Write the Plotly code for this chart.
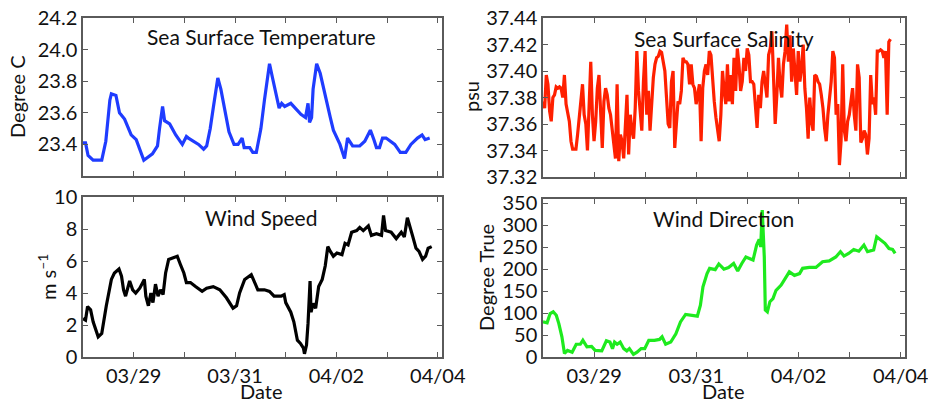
import pandas as pd
import plotly.graph_objects as go
from plotly.subplots import make_subplots

# ---------------- data ----------------
start = pd.Timestamp("2013-03-28 00:00")

# Sea surface temperature (days since 03/28 00:00, degree C)
sst_days = [0, 0.05, 0.1, 0.2, 0.37, 0.45, 0.53, 0.56, 0.65, 0.72, 0.82, 0.95, 1.05, 1.2, 1.37,
            1.47, 1.51, 1.57, 1.61, 1.71, 1.83, 1.96, 2.04, 2.08, 2.28, 2.38, 2.44, 2.51, 2.57,
            2.66, 2.72, 2.8, 2.88, 2.98, 3.06, 3.14, 3.18, 3.29, 3.35, 3.42, 3.51, 3.58, 3.68,
            3.74, 3.83, 3.87, 3.92, 3.98, 4.1, 4.18, 4.3, 4.39, 4.44, 4.47, 4.51, 4.54, 4.61,
            4.68, 4.78, 4.88, 4.94, 5.07, 5.16, 5.22, 5.32, 5.46, 5.56, 5.67, 5.74, 5.79, 5.85,
            5.91, 5.98, 6.15, 6.26, 6.37, 6.47, 6.6, 6.69, 6.75, 6.84]
sst_vals = [23.41, 23.41, 23.33, 23.30, 23.30, 23.42, 23.68, 23.72, 23.71, 23.60, 23.56, 23.46,
            23.43, 23.30, 23.34, 23.39, 23.50, 23.64, 23.55, 23.53, 23.46, 23.40, 23.45, 23.44,
            23.40, 23.37, 23.39, 23.50, 23.63, 23.82, 23.75, 23.61, 23.48, 23.40, 23.40, 23.44,
            23.38, 23.38, 23.35, 23.35, 23.50, 23.68, 23.91, 23.82, 23.70, 23.63, 23.66, 23.64,
            23.66, 23.63, 23.59, 23.57, 23.66, 23.54, 23.57, 23.75, 23.91, 23.85, 23.72, 23.57,
            23.49, 23.40, 23.31, 23.44, 23.39, 23.39, 23.42, 23.49, 23.43, 23.38, 23.38, 23.44,
            23.44, 23.40, 23.35, 23.35, 23.40, 23.44, 23.46, 23.43, 23.44]

# Sea surface salinity (regular samples, psu)
sss_step_seconds = 2784
sss_vals = [37.377, 37.372, 37.397, 37.390, 37.370, 37.362, 37.380, 37.382, 37.388, 37.387,
            37.388, 37.387, 37.380, 37.397, 37.375, 37.367, 37.362, 37.347, 37.341, 37.341,
            37.341, 37.352, 37.367, 37.380, 37.390, 37.367, 37.360, 37.340, 37.375, 37.407,
            37.367, 37.347, 37.362, 37.387, 37.397, 37.367, 37.342, 37.377, 37.387, 37.382,
            37.372, 37.367, 37.357, 37.347, 37.334, 37.390, 37.332, 37.352, 37.347, 37.334,
            37.362, 37.382, 37.337, 37.367, 37.355, 37.349, 37.372, 37.415, 37.385, 37.367,
            37.355, 37.392, 37.415, 37.367, 37.385, 37.355, 37.380, 37.395, 37.405, 37.410,
            37.411, 37.415, 37.414, 37.407, 37.400, 37.380, 37.360, 37.357, 37.392, 37.400,
            37.342, 37.360, 37.377, 37.375, 37.385, 37.410, 37.407, 37.407, 37.405, 37.390,
            37.405, 37.390, 37.387, 37.375, 37.382, 37.390, 37.347, 37.387, 37.400, 37.405,
            37.397, 37.415, 37.412, 37.392, 37.377, 37.365, 37.355,
            37.347, 37.367, 37.400, 37.385, 37.375, 37.405, 37.377, 37.397, 37.375, 37.410,
            37.385, 37.417, 37.405, 37.385, 37.392, 37.410, 37.400, 37.417, 37.412, 37.392,
            37.392, 37.390, 37.372, 37.357, 37.382, 37.372, 37.392, 37.400, 37.390, 37.380,
            37.412, 37.417, 37.430, 37.395, 37.360, 37.382, 37.410, 37.390, 37.380, 37.405,
            37.415, 37.435, 37.407, 37.427, 37.392, 37.417, 37.400, 37.382, 37.415, 37.392,
            37.402, 37.420, 37.387, 37.372, 37.349, 37.380, 37.362, 37.355, 37.397, 37.396,
            37.392, 37.390, 37.382, 37.372, 37.357, 37.347, 37.367, 37.380, 37.392, 37.415,
            37.410, 37.367, 37.375, 37.329, 37.347, 37.405, 37.355, 37.347, 37.362, 37.367,
            37.377, 37.387, 37.367, 37.355, 37.405, 37.395, 37.346, 37.349, 37.355, 37.352,
            37.337, 37.349, 37.397, 37.375, 37.380, 37.367, 37.415, 37.415, 37.416, 37.415,
            37.410, 37.415, 37.367, 37.422, 37.424]

# Wind speed (days, m/s)
ws_days = [0, 0.05, 0.09, 0.15, 0.2, 0.3, 0.37, 0.41, 0.46, 0.56,
           0.62, 0.71, 0.76, 0.8, 0.84, 0.92, 0.98, 1.04, 1.12, 1.21,
           1.24, 1.29, 1.34, 1.38, 1.43, 1.48, 1.53, 1.58, 1.63, 1.69,
           1.79, 1.86, 1.92, 1.99, 2.04, 2.12, 2.22, 2.35, 2.44, 2.57,
           2.7, 2.83, 2.96, 3.03, 3.09, 3.19, 3.32, 3.38, 3.45, 3.58,
           3.68, 3.77, 3.91, 3.97, 4.0, 4.1, 4.16, 4.23, 4.29, 4.35,
           4.37, 4.41, 4.44, 4.48, 4.5, 4.54, 4.59, 4.65, 4.72, 4.78,
           4.83, 4.88, 4.94, 5.01, 5.11, 5.17, 5.23, 5.3, 5.4, 5.46,
           5.53, 5.63, 5.69, 5.79, 5.89, 5.93, 5.97, 6.08, 6.18, 6.28,
           6.34, 6.4, 6.45, 6.5, 6.57, 6.63, 6.7, 6.76, 6.81, 6.88]
ws_vals = [2.4, 2.3, 3.15, 2.95, 2.2, 1.26, 1.47, 2.3, 3.2, 4.85,
           5.25, 5.5, 5.05, 4.2, 3.8, 4.75, 4.2, 4.0, 4.3, 4.85,
           3.8, 3.2, 4.0, 3.4, 4.55, 3.8, 4.2, 3.9, 5.25, 6.1,
           6.2, 6.3, 5.8, 5.25, 4.65, 4.65, 4.4, 4.1, 4.3, 4.4,
           4.2, 3.7, 3.05, 3.2, 4.0, 4.85, 5.15, 4.75, 4.2, 4.2,
           4.1, 3.8, 3.8, 3.9, 3.4, 2.8, 2.2, 1.05, 0.85, 0.55,
           0.2, 0.75, 2.1, 4.75, 2.8, 3.35, 3.05, 4.4, 4.85, 5.7,
           6.9, 6.6, 6.3, 6.5, 6.4, 7.1, 7.0, 7.8, 7.9, 8.1,
           7.9, 8.2, 7.6, 7.7, 7.6, 8.85, 7.9, 7.8, 7.4, 7.8,
           7.5, 8.7, 8.2, 7.6, 6.8, 6.6, 6.1, 6.3, 6.8, 6.9]

# Wind direction (days, degree true)
wd_days = [0.0, 0.08, 0.14, 0.2, 0.26, 0.31, 0.37, 0.42, 0.48, 0.57,
           0.65, 0.73, 0.78, 0.86, 0.95, 1.02, 1.15, 1.24, 1.31, 1.36,
           1.4, 1.45, 1.51, 1.58, 1.64, 1.69, 1.77, 1.84, 1.92, 1.99,
           2.07, 2.18, 2.28, 2.33, 2.4, 2.5, 2.6, 2.69, 2.79, 2.92,
           3.02, 3.08, 3.13, 3.21, 3.26, 3.37, 3.44, 3.54, 3.63, 3.73,
           3.81, 3.89, 3.97, 4.05, 4.11, 4.18, 4.23, 4.26, 4.29, 4.33,
           4.35, 4.39, 4.44, 4.5, 4.56, 4.66, 4.76, 4.82, 4.92, 5.02,
           5.08, 5.21, 5.34, 5.47, 5.6, 5.73, 5.82, 5.89, 5.98, 6.08,
           6.18, 6.28, 6.35, 6.47, 6.53, 6.63, 6.69, 6.77, 6.84, 6.89]
wd_vals = [80, 78, 99, 103, 95, 76, 46, 8, 15, 11,
           29, 29, 38, 23, 24, 15, 14, 37, 34, 19,
           34, 29, 34, 19, 14, 19, 6, 11, 19, 19,
           38, 38, 40, 46, 29, 34, 53, 80, 97, 95,
           93, 118, 160, 190, 202, 199, 212, 200, 204, 213,
           196, 213, 228, 224, 221, 255, 268, 251, 335, 228,
           107, 103, 126, 133, 152, 164, 184, 194, 186, 190,
           202, 204, 204, 217, 219, 228, 240, 230, 236, 245,
           241, 255, 240, 244, 274, 266, 259, 247, 245, 236]

day_ticks = ["03/28", "03/29", "03/30", "03/31", "04/01", "04/02", "04/03", "04/04"]
label_ticks = ["03/29", "03/31", "04/02", "04/04"]

sst_ticks = [23.4, 23.6, 23.8, 24.0, 24.2]
sss_ticks = [37.32, 37.34, 37.36, 37.38, 37.40, 37.42, 37.44]
ws_ticks = [0, 2, 4, 6, 8, 10]
wd_ticks = [0, 50, 100, 150, 200, 250, 300, 350]

# ---------------- build ----------------
def to_time(days):
    return [start + pd.Timedelta(days=d) for d in days]

def md_to_time(labels):
    return [pd.Timestamp(f"{start.year}/{s}") for s in labels]

sss_time = [start + pd.Timedelta(seconds=sss_step_seconds * i) for i in range(len(sss_vals))]

fig = make_subplots(rows=2, cols=2)
lw = 3.2
fig.add_trace(go.Scatter(x=to_time(sst_days), y=sst_vals, mode="lines",
                         line=dict(color="#1f3cff", width=lw)), row=1, col=1)
fig.add_trace(go.Scatter(x=sss_time, y=sss_vals, mode="lines",
                         line=dict(color="#ff2000", width=lw)), row=1, col=2)
fig.add_trace(go.Scatter(x=to_time(ws_days), y=ws_vals, mode="lines",
                         line=dict(color="#000000", width=lw)), row=2, col=1)
fig.add_trace(go.Scatter(x=to_time(wd_days), y=wd_vals, mode="lines",
                         line=dict(color="#1eea1e", width=lw)), row=2, col=2)

W, H = 928, 402
def xd(a, b):
    return [a / W, b / W]
def yd(top, bot):
    return [1 - bot / H, 1 - top / H]

TICK = 20
axis_common = dict(showline=True, linecolor="#5a5a5a", linewidth=1.5, mirror="ticks",
                   ticks="inside", ticklen=5, tickcolor="#5a5a5a", tickwidth=1.2,
                   showgrid=False, zeroline=False, automargin=False,
                   ticklabeloverflow="allow",
                   tickfont=dict(family="Lato", size=TICK, color="#111"))

xr = [start, start + pd.Timedelta(hours=170)]
for name, dom, show in [("xaxis", xd(83, 442), False), ("xaxis2", xd(543, 905), False),
                        ("xaxis3", xd(83, 442), True), ("xaxis4", xd(543, 905), True)]:
    fig.layout[name].update(domain=dom, range=xr, tickmode="array",
                            tickvals=md_to_time(label_ticks), ticktext=label_ticks,
                            showticklabels=show,
                            minor=dict(tickmode="array", tickvals=md_to_time(day_ticks),
                                       ticks="inside", ticklen=5, tickcolor="#5a5a5a",
                                       tickwidth=1.2, showgrid=False),
                            **axis_common)

fig.layout.yaxis.update(domain=yd(18, 176), range=[23.2, 24.2], tickmode="array",
                        tickvals=sst_ticks, ticktext=[f"{v:.1f}" for v in sst_ticks], **axis_common)
fig.layout.yaxis2.update(domain=yd(18, 177), range=[37.32, 37.44], tickmode="array",
                         tickvals=sss_ticks, ticktext=[f"{v:.2f}" for v in sss_ticks], **axis_common)
fig.layout.yaxis3.update(domain=yd(197, 357), range=[0, 10], tickmode="array",
                         tickvals=ws_ticks, ticktext=[str(v) for v in ws_ticks], **axis_common)
fig.layout.yaxis4.update(domain=yd(199, 357), range=[0, 360], tickmode="array",
                         tickvals=wd_ticks, ticktext=[str(v) for v in wd_ticks], **axis_common)

def ann(text, x, y, angle=0, size=20):
    fig.add_annotation(text=text, x=x / W, y=1 - y / H, xref="paper", yref="paper",
                       showarrow=False, textangle=angle, xanchor="center", yanchor="middle",
                       font=dict(family="Lato", size=size, color="#111"))

ann("Sea Surface Temperature", 261, 37, size=21)
ann("Sea Surface Salinity", 724, 38, size=21)
ann("Wind Speed", 261, 217, size=21)
ann("Wind Direction", 723, 218, size=21)
ann("Degree C", 17, 97, -90)
ann("psu", 471, 97, -90)
ann("m s<sup>–1</sup>", 47, 277, -90)
ann("Degree True", 486, 277, -90)
ann("Date", 261, 391)
ann("Date", 723, 391)

fig.update_layout(width=W, height=H, margin=dict(l=0, r=0, t=0, b=0),
                  paper_bgcolor="white", plot_bgcolor="white", showlegend=False,
                  font=dict(family="Lato", size=20, color="#111"))

fig.write_html("out.html", config={"displayModeBar": False},
               post_script="document.body.style.margin='0px';document.body.style.overflow='hidden';")
